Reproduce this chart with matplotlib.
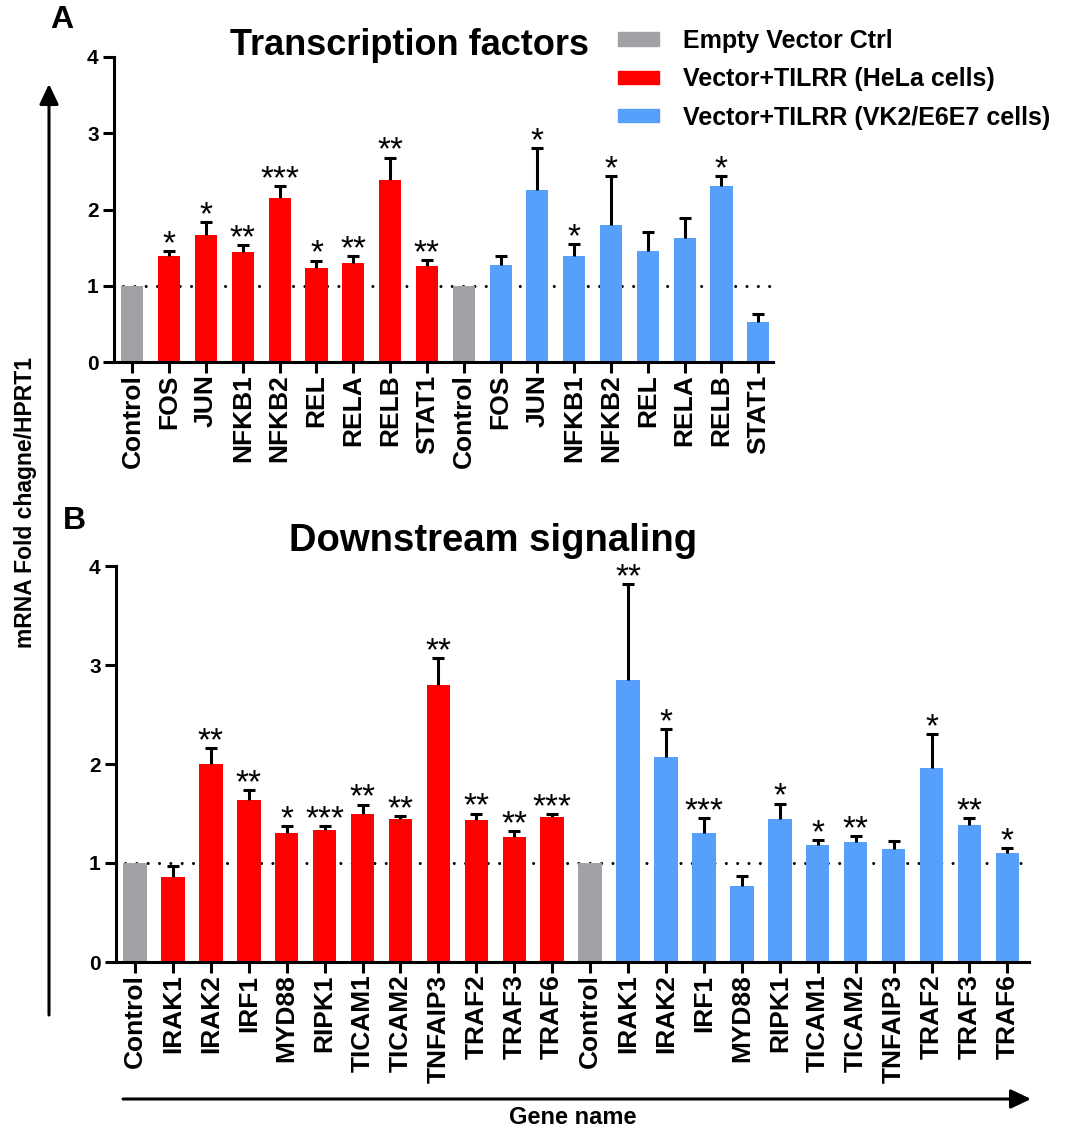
import numpy as np
import matplotlib
matplotlib.use('Agg')
import matplotlib.pyplot as plt
from matplotlib.patches import Patch, FancyArrowPatch

plt.rcParams['font.family'] = ['Liberation Sans', 'DejaVu Sans']

# A: transcription factors
tf_genes = ['FOS', 'JUN', 'NFKB1', 'NFKB2', 'REL', 'RELA', 'RELB', 'STAT1']
tf_hela = [1.39, 1.67, 1.44, 2.15, 1.23, 1.30, 2.39, 1.26]
tf_hela_err = [0.06, 0.16, 0.09, 0.16, 0.10, 0.09, 0.29, 0.08]
tf_hela_sig = ['*', '*', '**', '***', '*', '**', '**', '**']
tf_vk2 = [1.27, 2.26, 1.39, 1.80, 1.45, 1.62, 2.31, 0.53]
tf_vk2_err = [0.12, 0.55, 0.16, 0.64, 0.26, 0.27, 0.13, 0.10]
tf_vk2_sig = ['', '*', '*', '*', '', '', '*', '']

# B: downstream signaling
ds_genes = ['IRAK1', 'IRAK2', 'IRF1', 'MYD88', 'RIPK1', 'TICAM1', 'TICAM2',
            'TNFAIP3', 'TRAF2', 'TRAF3', 'TRAF6']
ds_hela = [0.86, 2.00, 1.64, 1.30, 1.33, 1.50, 1.44, 2.80, 1.43, 1.26, 1.46]
ds_hela_err = [0.11, 0.16, 0.10, 0.07, 0.04, 0.09, 0.03, 0.27, 0.07, 0.06, 0.03]
ds_hela_sig = ['', '**', '**', '*', '***', '**', '**', '**', '**', '**', '***']
ds_vk2 = [2.85, 2.07, 1.30, 0.77, 1.44, 1.18, 1.21, 1.14, 1.96, 1.38, 1.10]
ds_vk2_err = [0.97, 0.28, 0.15, 0.10, 0.16, 0.05, 0.06, 0.08, 0.34, 0.07, 0.05]
ds_vk2_sig = ['**', '*', '***', '', '*', '*', '**', '', '*', '**', '*']

legend_labels = ['Empty Vector Ctrl', 'Vector+TILRR (HeLa cells)',
                 'Vector+TILRR (VK2/E6E7 cells)']

GREY = '#a2a2a6'
RED = '#ff0000'
BLUE = '#56a0fb'
LW = 2.2

W, H = 1078, 1133
fig = plt.figure(figsize=(W / 100, H / 100), dpi=100)


def fx(px):
    return px / W


def fy(py):
    return 1 - py / H


def panel(ax, genes, hela, hela_err, hela_sig, vk2, vk2_err, vk2_sig, width, xmax):
    n = len(genes)
    labels = ['Control'] + genes + ['Control'] + genes
    vals = np.array([1.0] + hela + [1.0] + vk2)
    errs = np.array([0.0] + hela_err + [0.0] + vk2_err)
    sigs = [''] + hela_sig + [''] + vk2_sig
    colors = [GREY] + [RED] * n + [GREY] + [BLUE] * n
    x = np.arange(len(vals))

    ax.hlines(1, -0.25, xmax, colors='k', linestyles=(0, (0.01, 3.7)), lw=2.2,
              capstyle='round', zorder=1)
    ax.bar(x, vals, width=width, color=colors, zorder=2)
    m = errs > 0
    eb = ax.errorbar(x[m], vals[m], yerr=[np.zeros(m.sum()), errs[m]], fmt='none',
                     ecolor='k', elinewidth=LW, capsize=4.5, capthick=LW, zorder=3)
    # only the upper cap, like a one-sided SEM bar
    eb[1][0].set_visible(False)
    for xi, v, e, s in zip(x, vals, errs, sigs):
        if s:
            ax.annotate(s, (xi, v + e), xytext=(0, -1.5), textcoords='offset points',
                        ha='center', va='baseline', fontsize=24)

    ax.set_xlim(-0.5, xmax)
    ax.set_ylim(0, 4)
    ax.set_yticks([0, 1, 2, 3, 4])
    ax.set_xticks(x)
    ax.set_xticklabels(labels, rotation=90, fontsize=19, fontweight='bold')
    for t in ax.get_yticklabels():
        t.set_fontweight('bold')
        t.set_fontsize(15)
    for side in ['top', 'right']:
        ax.spines[side].set_visible(False)
    for side in ['left', 'bottom']:
        ax.spines[side].set_linewidth(LW)
    ax.tick_params(axis='both', width=LW, length=8)
    ax.tick_params(axis='x', pad=1)
    ax.tick_params(axis='y', pad=3)


axA = fig.add_axes([fx(114), fy(362), fx(773) - fx(114), fy(57) - fy(362)])
panel(axA, tf_genes, tf_hela, tf_hela_err, tf_hela_sig,
      tf_vk2, tf_vk2_err, tf_vk2_sig, 0.6, 17.4)

axB = fig.add_axes([fx(116), fy(962), fx(1029) - fx(116), fy(566) - fy(962)])
panel(axB, ds_genes, ds_hela, ds_hela_err, ds_hela_sig,
      ds_vk2, ds_vk2_err, ds_vk2_sig, 0.62, 23.57)

fig.text(fx(409), fy(55), 'Transcription factors', ha='center', va='baseline',
         fontsize=26, fontweight='bold')
fig.text(fx(493), fy(551), 'Downstream signaling', ha='center', va='baseline',
         fontsize=27.5, fontweight='bold')
fig.text(fx(62), fy(20), 'A', ha='center', va='center', fontsize=23, fontweight='bold')
fig.text(fx(74), fy(521), 'B', ha='center', va='center', fontsize=23, fontweight='bold')

fig.text(fx(26), fy(503), 'mRNA Fold chagne/HPRT1', rotation=90, ha='center',
         va='center', fontsize=16.5, fontweight='bold')
fig.text(fx(573), fy(1118), 'Gene name', ha='center', va='center',
         fontsize=17, fontweight='bold')

arrow_style = '-|>,head_length=0.61,head_width=0.29'
fig.add_artist(FancyArrowPatch((fx(49), fy(1015)), (fx(49), fy(84)),
                               transform=fig.transFigure, arrowstyle=arrow_style,
                               mutation_scale=20, lw=LW, color='k',
                               shrinkA=0, shrinkB=0))
fig.add_artist(FancyArrowPatch((fx(123), fy(1099)), (fx(1031), fy(1099)),
                               transform=fig.transFigure, arrowstyle=arrow_style,
                               mutation_scale=20, lw=LW, color='k',
                               shrinkA=0, shrinkB=0))

handles = [Patch(color=c) for c in [GREY, RED, BLUE]]
fig.legend(handles, legend_labels, loc='upper left',
           bbox_to_anchor=(fx(618), fy(29)), frameon=False,
           prop={'weight': 'bold', 'size': 18}, handlelength=1.65,
           handleheight=0.45, handletextpad=0.95, labelspacing=0.57,
           borderaxespad=0, borderpad=0)

fig.savefig('out.png', dpi=100)
